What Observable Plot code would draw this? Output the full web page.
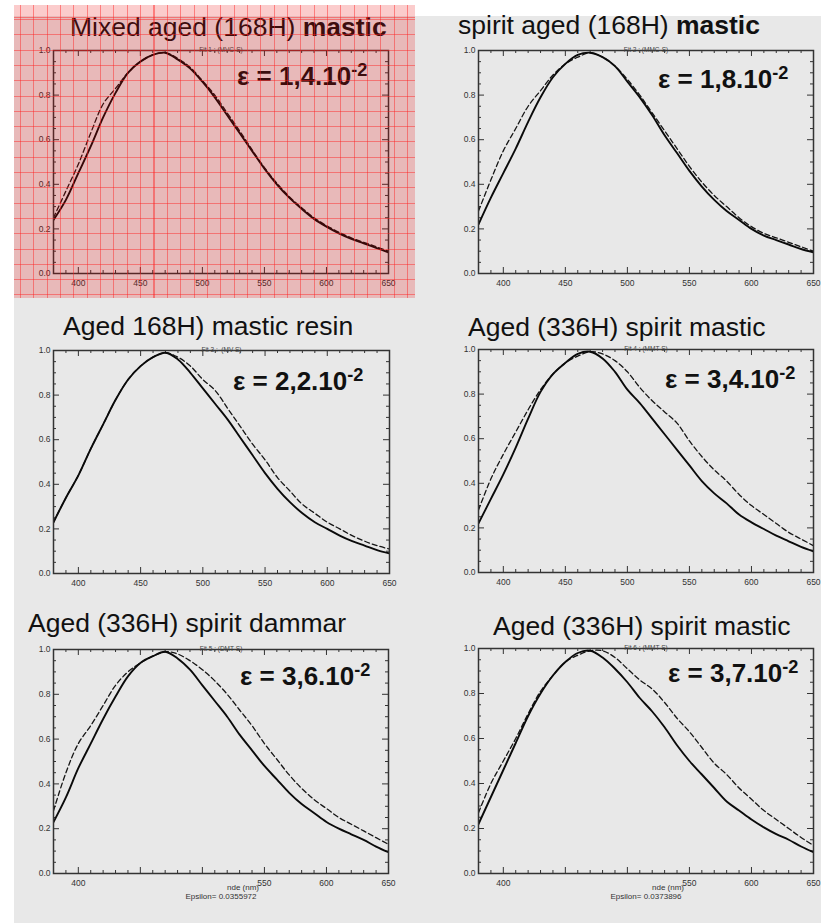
<!DOCTYPE html>
<html><head><meta charset="utf-8">
<script src="https://cdn.jsdelivr.net/npm/d3@7"></script>
<script src="https://cdn.jsdelivr.net/npm/@observablehq/plot@0.6"></script>
<style>
html,body{margin:0;padding:0;background:#fff;}
#root{position:relative;width:825px;height:923px;overflow:hidden;background:#fff;font-family:"Liberation Sans",Arial,sans-serif;}
#bg{position:absolute;left:14px;top:16px;width:807px;height:907px;background:#e8e8e8;}
.panel{position:absolute;}
.title{position:absolute;white-space:nowrap;font-size:26.5px;line-height:18px;color:#111;}
.eps{position:absolute;white-space:nowrap;font-size:26px;line-height:22px;font-weight:bold;color:#111;}
.eps .sup{font-size:0.7em;position:relative;top:-0.5em;}
#overlay{position:absolute;left:14px;top:5px;width:401px;height:293px;pointer-events:none;
  background-color:rgba(235,0,0,0.2);
  background-image:
    repeating-linear-gradient(to right, rgba(255,30,30,0.45) 0px, rgba(255,30,30,0.45) 1px, transparent 1px, transparent 13.35px),
    repeating-linear-gradient(to bottom, rgba(255,30,30,0.45) 0px, rgba(255,30,30,0.45) 1px, transparent 1px, transparent 15.3px);
  background-position:6px 0px, 0px 14px;}
</style>
</head><body>
<div id="root"><div id="bg"></div></div>
<script>
// ---------- data ----------
const wavelengths = [380,390,400,410,420,430,440,450,460,470,480,490,500,510,520,530,540,550,560,570,580,590,600,610,620,630,640,650];

const titlesRegular = ["Mixed aged (168H) ", "spirit aged (168H) ", "Aged 168H) mastic resin", "Aged (336H) spirit mastic", "Aged (336H) spirit dammar", "Aged (336H) spirit mastic"];
const titlesBold = ["mastic", "mastic", "", "", "", ""];
const epsilonValues = ["1,4", "1,8", "2,2", "3,4", "3,6", "3,7"];
const epsilonExponent = "-2";
const fitLabels = ["Fit 1 : (MVC-S)", "Fit 2 : (MMC-S)", "Fit 3 :  (MV-S)", "Fit 4 : (MMT-S)", "Fit 5 : (DMT-S)", "Fit 6 : (MMT-S)"];
const axisNames = ["", "", "", "", "nde (nm)", "nde (nm)"];
const epsilonFooters = ["", "", "", "", "Epsilon= 0.0355972", "Epsilon= 0.0373896"];
const xTickLabels = [400, 450, 500, 550, 600, 650];
const xTickLabelsBottomRow = [400, 550, 600, 650];
const yTickLabels = [0, 0.2, 0.4, 0.6, 0.8, 1.0];

const solid1  = [0.24,0.33,0.45,0.57,0.70,0.81,0.90,0.95,0.98,0.99,0.96,0.92,0.86,0.79,0.71,0.63,0.55,0.47,0.40,0.34,0.29,0.245,0.21,0.18,0.155,0.135,0.115,0.095];
const dashed1 = [0.25,0.37,0.49,0.63,0.76,0.83,0.90,0.95,0.98,0.99,0.965,0.925,0.865,0.80,0.72,0.64,0.555,0.475,0.405,0.345,0.295,0.25,0.215,0.185,0.16,0.14,0.12,0.10];

const solid2  = [0.22,0.34,0.45,0.56,0.68,0.79,0.88,0.94,0.98,0.99,0.97,0.93,0.86,0.79,0.71,0.62,0.54,0.46,0.39,0.33,0.28,0.24,0.20,0.17,0.15,0.13,0.11,0.095];
const dashed2 = [0.28,0.42,0.55,0.65,0.75,0.82,0.89,0.94,0.97,0.99,0.97,0.93,0.87,0.80,0.72,0.64,0.56,0.48,0.41,0.35,0.30,0.25,0.21,0.18,0.16,0.14,0.12,0.10];

const solid3  = [0.23,0.34,0.44,0.56,0.67,0.78,0.87,0.93,0.97,0.99,0.96,0.90,0.83,0.76,0.69,0.61,0.53,0.45,0.38,0.32,0.27,0.23,0.20,0.17,0.145,0.125,0.105,0.09];
const dashed3 = [0.23,0.34,0.44,0.56,0.67,0.78,0.87,0.93,0.97,0.99,0.97,0.93,0.87,0.82,0.74,0.66,0.58,0.51,0.43,0.37,0.31,0.27,0.23,0.20,0.17,0.145,0.125,0.11];

const solid4  = [0.22,0.33,0.44,0.56,0.69,0.81,0.89,0.94,0.98,0.99,0.96,0.90,0.82,0.76,0.69,0.62,0.55,0.48,0.41,0.355,0.31,0.26,0.225,0.195,0.165,0.14,0.115,0.095];
const dashed4 = [0.28,0.42,0.53,0.63,0.73,0.82,0.89,0.94,0.97,0.99,0.98,0.95,0.90,0.83,0.77,0.72,0.67,0.59,0.52,0.46,0.41,0.35,0.30,0.26,0.22,0.18,0.15,0.12];

const solid5  = [0.23,0.34,0.47,0.58,0.69,0.79,0.88,0.94,0.97,0.99,0.96,0.91,0.84,0.77,0.70,0.62,0.55,0.48,0.42,0.36,0.31,0.27,0.23,0.20,0.175,0.15,0.12,0.095];
const dashed5 = [0.28,0.45,0.58,0.66,0.75,0.84,0.90,0.94,0.97,0.99,0.98,0.95,0.91,0.86,0.80,0.73,0.66,0.58,0.51,0.44,0.38,0.33,0.29,0.25,0.22,0.19,0.16,0.13];

const solid6  = [0.22,0.34,0.46,0.58,0.70,0.80,0.88,0.94,0.98,0.99,0.96,0.91,0.85,0.78,0.72,0.65,0.57,0.50,0.44,0.38,0.32,0.28,0.24,0.205,0.175,0.15,0.12,0.095];
const dashed6 = [0.27,0.40,0.50,0.60,0.71,0.81,0.88,0.94,0.97,0.99,0.99,0.96,0.91,0.86,0.82,0.76,0.69,0.63,0.56,0.49,0.44,0.38,0.33,0.28,0.24,0.20,0.16,0.125];

const solidSeries = [solid1, solid2, solid3, solid4, solid5, solid6];
const dashedSeries = [dashed1, dashed2, dashed3, dashed4, dashed5, dashed6];

// ---------- layout (frame boxes, text anchors) ----------
const layout = [
  {fx:53,  fy:50,  fw:335, fh:223, tx:70,  tb:36,  ex:237, eb:85},
  {fx:478, fy:50,  fw:335, fh:223, tx:458, tb:34,  ex:658, eb:88},
  {fx:53,  fy:350, fw:336, fh:223, tx:63,  tb:335, ex:233, eb:390},
  {fx:478, fy:349, fw:335, fh:223, tx:468, tb:336, ex:665, eb:388},
  {fx:53,  fy:649, fw:335, fh:224, tx:28,  tb:632, ex:240, eb:685},
  {fx:478, fy:648, fw:335, fh:225, tx:493, tb:635, ex:668, eb:682}
];
const ML = 45, MR = 8, MT = 14, MB = 34;
const ink = "#333";
// baseline offset inside a div for Liberation Sans: half-leading + ascent
const baselineOffset = (fs, lh) => (lh - 1.117 * fs) / 2 + 0.905 * fs;

const root = document.getElementById("root");
const xMinor = d3.range(390, 650, 10).filter(v => v % 50 !== 0);
const yMinor = d3.range(1, 20).filter(k => k % 4 !== 0).map(k => k / 20);
const yMajorInner = [0.2, 0.4, 0.6, 0.8];

layout.forEach((L, i) => {
  const rows = wavelengths.map((w, j) => ({w, s: solidSeries[i][j], d: dashedSeries[i][j]}));
  const W = L.fw + ML + MR, H = L.fh + MT + MB;
  const bottomRow = i >= 4;
  const marks = [
    // inward ticks on all four sides
    Plot.ruleX(xTickLabels, {x: d => d, insetTop: L.fh - 6, stroke: ink, strokeWidth: 1}),
    Plot.ruleX(xTickLabels, {x: d => d, insetBottom: L.fh - 6, stroke: ink, strokeWidth: 1}),
    Plot.ruleX(xMinor, {x: d => d, insetTop: L.fh - 3, stroke: ink, strokeWidth: 1}),
    Plot.ruleX(xMinor, {x: d => d, insetBottom: L.fh - 3, stroke: ink, strokeWidth: 1}),
    Plot.ruleY(yMajorInner, {y: d => d, insetRight: L.fw - 6, stroke: ink, strokeWidth: 1}),
    Plot.ruleY(yMajorInner, {y: d => d, insetLeft: L.fw - 6, stroke: ink, strokeWidth: 1}),
    Plot.ruleY(yMinor, {y: d => d, insetRight: L.fw - 3, stroke: ink, strokeWidth: 1}),
    Plot.ruleY(yMinor, {y: d => d, insetLeft: L.fw - 3, stroke: ink, strokeWidth: 1}),
    // curves
    Plot.line(rows, {x: "w", y: "d", stroke: "#151515", strokeWidth: 1.3, strokeDasharray: "5,3", curve: "catmull-rom", clip: true}),
    Plot.line(rows, {x: "w", y: "s", stroke: "#0a0a0a", strokeWidth: 1.9, curve: "catmull-rom", clip: true}),
    Plot.frame({stroke: ink, strokeWidth: 1.5}),
    Plot.axisX(bottomRow ? xTickLabelsBottomRow : xTickLabels, {tickSize: 0, tickPadding: 6, label: null, tickFormat: d => String(d), fill: "#333", fontSize: 8.5}),
    Plot.axisY(yTickLabels, {tickSize: 0, tickPadding: 3, label: null, tickFormat: d => d.toFixed(1), fill: "#333", fontSize: 8.5}),
    Plot.text([fitLabels[i]], {frameAnchor: "top", dy: -3.5, fontSize: 6.5, fill: "#444"})
  ];
  if (axisNames[i]) marks.push(Plot.text([axisNames[i]], {frameAnchor: "bottom", dy: 16, dx: 22, fontSize: 8, fill: "#333"}));
  if (epsilonFooters[i]) marks.push(Plot.text([epsilonFooters[i]], {frameAnchor: "bottom", dy: 25, fontSize: 8, fill: "#333"}));

  const svg = Plot.plot({
    width: W, height: H,
    marginLeft: ML, marginRight: MR, marginTop: MT, marginBottom: MB,
    x: {domain: [380, 650]},
    y: {domain: [0, 1]},
    style: {background: "transparent", fontFamily: "'Liberation Sans', Arial, sans-serif", fontSize: "8px", overflow: "visible"},
    marks
  });
  const wrap = document.createElement("div");
  wrap.className = "panel";
  wrap.style.left = (L.fx - ML) + "px";
  wrap.style.top = (L.fy - MT) + "px";
  wrap.appendChild(svg);
  root.appendChild(wrap);

  // title
  const t = document.createElement("div");
  t.className = "title";
  t.style.left = L.tx + "px";
  t.style.top = (L.tb - baselineOffset(26.5, 18)) + "px";
  t.appendChild(document.createTextNode(titlesRegular[i]));
  if (titlesBold[i]) { const b = document.createElement("b"); b.textContent = titlesBold[i]; t.appendChild(b); }
  root.appendChild(t);

  // epsilon label
  const e = document.createElement("div");
  e.className = "eps";
  e.style.left = L.ex + "px";
  e.style.top = (L.eb - baselineOffset(26, 22)) + "px";
  e.appendChild(document.createTextNode("\u03B5 = " + epsilonValues[i] + ".10"));
  const s = document.createElement("span"); s.className = "sup"; s.textContent = epsilonExponent;
  e.appendChild(s);
  root.appendChild(e);
});

const ov = document.createElement("div");
ov.id = "overlay";
root.appendChild(ov);
</script>
</body></html>
